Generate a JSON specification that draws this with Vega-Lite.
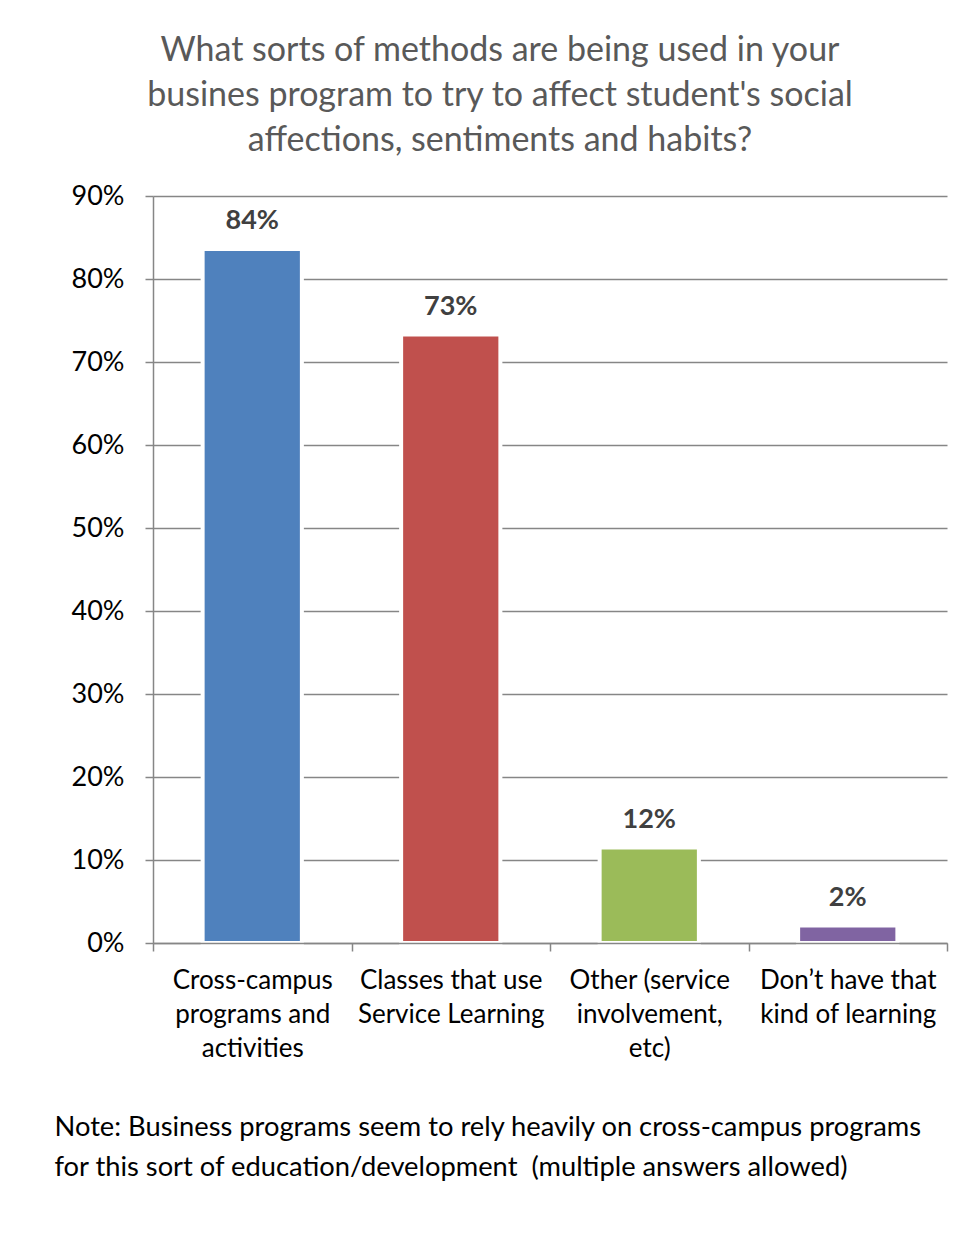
{
  "$schema": "https://vega.github.io/schema/vega-lite/v6.json",
  "width": 794,
  "height": 747,
  "autosize": {"type": "none"},
  "padding": {"left": 153, "top": 196, "right": 25, "bottom": 297},
  "background": "white",
  "config": {"font": "Lato", "view": {"stroke": null}},
  "title": {
    "text": ["What sorts of methods are being used in your", "busines program to try to affect student's social", "affections, sentiments and habits?"],
    "anchor": "middle",
    "frame": "group",
    "dx": -50,
    "offset": -3,
    "baseline": "alphabetic",
    "font": "Lato",
    "fontSize": 34,
    "fontWeight": "normal",
    "color": "#595959",
    "lineHeight": 45
  },
  "data": {
    "values": [
      {"method": "Cross-campus|programs and|activities", "value": 0.836, "label": "84%"},
      {"method": "Classes that use|Service Learning", "value": 0.733, "label": "73%"},
      {"method": "Other (service|involvement,|etc)", "value": 0.115, "label": "12%"},
      {"method": "Don’t have that|kind of learning", "value": 0.021, "label": "2%"}
    ]
  },
  "encoding": {
    "x": {
      "field": "method",
      "type": "nominal",
      "sort": null,
      "scale": {"paddingInner": 0, "paddingOuter": 0},
      "axis": {
        "labelExpr": "split(datum.label, '|')",
        "tickBand": "extent",
        "tickSize": 8,
        "tickColor": "#868686",
        "tickWidth": 1.5,
        "domainColor": "#868686",
        "domainWidth": 1.5,
        "labelAngle": 0,
        "labelFont": "Lato",
        "labelFontSize": 26,
        "labelColor": "#000000",
        "labelLineHeight": 34,
        "labelBaseline": "alphabetic",
        "labelPadding": 37,
        "labelLimit": 400,
        "grid": false,
        "zindex": 1,
        "title": ["Note: Business programs seem to rely heavily on cross-campus programs", "for this sort of education/development \u00a0(multiple answers allowed)"],
        "titleX": -99,
        "titleY": 192,
        "titleAlign": "left",
        "titleAnchor": "start",
        "titleBaseline": "alphabetic",
        "titleFont": "Lato",
        "titleFontSize": 27.3,
        "titleFontWeight": "normal",
        "titleColor": "#000000",
        "titleLineHeight": 40
      }
    },
    "y": {
      "field": "value",
      "type": "quantitative",
      "scale": {"domain": [0, 0.9], "nice": false},
      "axis": {
        "values": [0, 0.1, 0.2, 0.3, 0.4, 0.5, 0.6, 0.7, 0.8, 0.9],
        "format": ".0%",
        "title": null,
        "grid": true,
        "gridColor": "#868686",
        "gridWidth": 1.5,
        "tickSize": 8,
        "tickColor": "#868686",
        "tickWidth": 1.5,
        "domainColor": "#868686",
        "domainWidth": 1.5,
        "labelPadding": 21,
        "labelFont": "Lato",
        "labelFontSize": 27,
        "labelColor": "#000000"
      }
    }
  },
  "layer": [
    {
      "mark": {"type": "bar", "width": {"band": 0.5}, "stroke": "white", "strokeWidth": 4},
      "encoding": {
        "color": {
          "field": "method",
          "type": "nominal",
          "sort": null,
          "scale": {"range": ["#4F81BD", "#C0504D", "#9BBB59", "#8064A2"]},
          "legend": null
        }
      }
    },
    {
      "mark": {"type": "text", "baseline": "alphabetic", "dy": -20, "font": "Lato", "fontSize": 27, "fontWeight": "bold", "color": "#404040"},
      "encoding": {"text": {"field": "label"}}
    }
  ]
}
